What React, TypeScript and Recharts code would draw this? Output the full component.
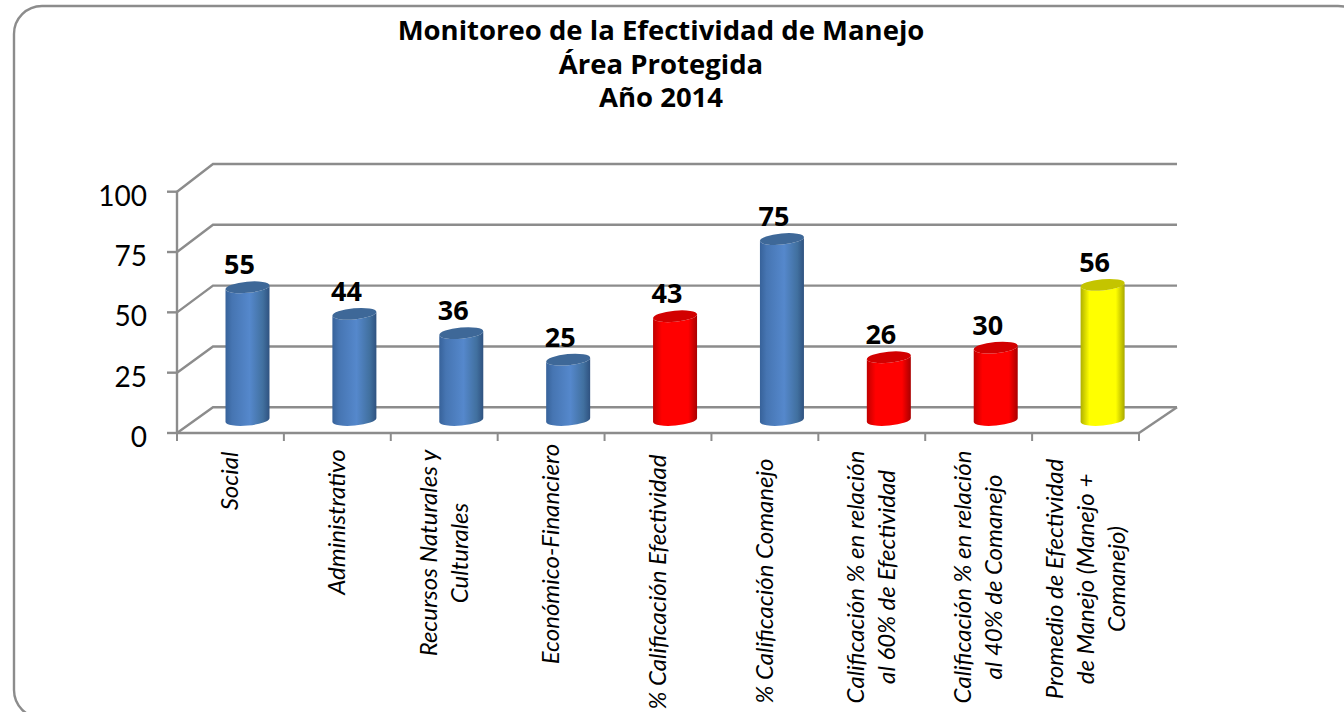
import React from "react";
import { BarChart, Bar, XAxis, YAxis, CartesianGrid, LabelList } from "recharts";

const titleLines = ["Monitoreo de la Efectividad de Manejo", "Área Protegida", "Año 2014"];
const categories = [
  "Social",
  "Administrativo",
  "Recursos Naturales y\nCulturales",
  "Económico-Financiero",
  "% Calificación Efectividad",
  "% Calificación Comanejo",
  "Calificación % en relación\nal 60% de Efectividad",
  "Calificación % en relación\nal 40% de Comanejo",
  "Promedio de Efectividad\nde Manejo (Manejo +\nComanejo)",
];
const values = [55, 44, 36, 25, 43, 75, 26, 30, 56];
const tones = ["blue", "blue", "blue", "blue", "red", "blue", "red", "red", "yellow"];
const yTicks = [0, 25, 50, 75, 100];

const rows = categories.map((name, i) => ({ name, value: values[i], tone: tones[i] }));

// layout
const W = 1344;
const H = 712;
const LEFT = 177;
const RIGHT = 1139;
const TOP = 191.7;
const BOTTOM = 433;
const DEPTH_X = 36;
const DEPTH_Y = 25.7;
const STEP = (RIGHT - LEFT) / categories.length;
const GREY = "#8c8c8c";
const labelCentreY = [481, 522, 553, 554, 582, 581, 577, 577, 579];

const topColour: Record<string, string> = { blue: "#3e6898", red: "#d20000", yellow: "#c4c400" };

function Cylinder(props: any) {
  const { x, y, width, height, payload } = props;
  const cx = x + width / 2 + 17.5;
  const r = width / 2;
  const top = y - 13;
  const bot = y + height - 13;
  const tilt = 2;
  const rx = Math.hypot(r, tilt);
  const ry = 5.6;
  const rot = -5.2;
  const body = `M ${cx - r} ${top + tilt} L ${cx - r} ${bot + tilt} A ${rx} ${ry} ${rot} 0 0 ${cx + r} ${bot - tilt} L ${cx + r} ${top - tilt} A ${rx} ${ry} ${rot} 0 1 ${cx - r} ${top + tilt} Z`;
  const lid = `M ${cx - r} ${top + tilt} A ${rx} ${ry} ${rot} 0 1 ${cx + r} ${top - tilt} A ${rx} ${ry} ${rot} 0 1 ${cx - r} ${top + tilt} Z`;
  return (
    <g>
      <path d={body} fill={`url(#cyl-${payload.tone})`} />
      <path d={lid} fill={topColour[payload.tone]} />
    </g>
  );
}

function GridLine(props: any) {
  const { x1, y1, x2, y2 } = props;
  const isFloor = Math.abs(y1 - BOTTOM) < 1;
  const lift = DEPTH_Y + (BOTTOM - y1) * 0.0083;
  const pts = `${x1},${y1} ${x1 + DEPTH_X},${y1 - lift} ${x2 + DEPTH_X + 2},${y2 - lift}`;
  return (
    <g>
      <polyline points={pts} fill="none" stroke={GREY} strokeWidth={2.4} />
      {isFloor && (
        <line x1={x2} y1={y2} x2={x2 + DEPTH_X + 2} y2={y2 - lift} stroke={GREY} strokeWidth={2.4} />
      )}
    </g>
  );
}

function CategoryTick(props: any) {
  const { x, y, payload, index } = props;
  const lines = String(payload.value).split("\n");
  const lineGap = 31;
  const cy = labelCentreY[index];
  const firstOffset = -((lines.length - 1) * lineGap) / 2 + 8;
  return (
    <g>
      <line x1={x - STEP / 2} y1={y} x2={x - STEP / 2} y2={y + 8} stroke={GREY} strokeWidth={2} />
      {index === categories.length - 1 && (
        <line x1={x + STEP / 2} y1={y} x2={x + STEP / 2} y2={y + 8} stroke={GREY} strokeWidth={2} />
      )}
      <text
        transform={`translate(${x},${cy}) rotate(-90)`}
        textAnchor="middle"
        fontFamily="Lato"
        fontStyle="italic"
        fontSize={24}
        fill="#000"
      >
        {lines.map((l, i) => (
          <tspan key={i} x={0} y={firstOffset + i * lineGap}>
            {l}
          </tspan>
        ))}
      </text>
    </g>
  );
}

function ValueLabel(props: any) {
  const { x, y, width, value } = props;
  return (
    <text
      x={x + width / 2 + 9.5}
      y={y - 13 - 13}
      textAnchor="middle"
      fontFamily="Open Sans"
      fontWeight={700}
      fontSize={27}
      fill="#000"
    >
      {value}
    </text>
  );
}

function Stops({ tone }: { tone: string }) {
  const sets: Record<string, [number, string][]> = {
    blue: [[0, "#37629a"], [0.15, "#4675b2"], [0.55, "#5588cc"], [0.85, "#41709f"], [1, "#2f5280"]],
    red: [[0, "#c00000"], [0.2, "#ff0000"], [0.8, "#ff0000"], [1, "#a80000"]],
    yellow: [[0, "#b0b000"], [0.2, "#ffff00"], [0.8, "#ffff00"], [1, "#a8a800"]],
  };
  return (
    <linearGradient id={`cyl-${tone}`} x1="0" y1="0" x2="1" y2="0">
      {sets[tone].map(([o, c]) => (
        <stop key={o} offset={o} stopColor={c} />
      ))}
    </linearGradient>
  );
}

export default function App() {
  return (
    <div style={{ position: "absolute", left: 0, top: 0, width: W, height: H, overflow: "hidden", background: "#fff" }}>
      <BarChart
        width={W}
        height={H}
        data={rows}
        margin={{ left: LEFT - 60, right: W - RIGHT, top: TOP, bottom: H - BOTTOM - 40 }}
      >
        <defs>
          <Stops tone="blue" />
          <Stops tone="red" />
          <Stops tone="yellow" />
        </defs>
        <rect x={14} y={6} width={1352} height={712} rx={28} fill="none" stroke={GREY} strokeWidth={2.4} />
        {titleLines.map((t, i) => (
          <text
            key={t}
            x={661}
            y={40 + i * 33.5}
            textAnchor="middle"
            fontFamily="Open Sans"
            fontWeight={700}
            fontSize={27.5}
            fill="#000"
          >
            {t}
          </text>
        ))}
        <CartesianGrid horizontal={GridLine as any} vertical={false} />
        <XAxis
          dataKey="name"
          height={40}
          interval={0}
          tickLine={false}
          axisLine={{ stroke: GREY, strokeWidth: 2.4 }}
          tick={CategoryTick as any}
          tickSize={0}
          tickMargin={0}
        />
        <YAxis
          width={60}
          domain={[0, 100]}
          ticks={yTicks}
          tickSize={10}
          tickMargin={20}
          axisLine={{ stroke: GREY, strokeWidth: 2.4 }}
          tickLine={{ stroke: GREY, strokeWidth: 2.4 }}
          tick={{ fill: "#000", fontFamily: "Lato", fontSize: 28, dy: 4 }}
        />
        <Bar dataKey="value" barSize={44} isAnimationActive={false} shape={Cylinder as any}>
          <LabelList dataKey="value" content={ValueLabel as any} />
        </Bar>
      </BarChart>
    </div>
  );
}
